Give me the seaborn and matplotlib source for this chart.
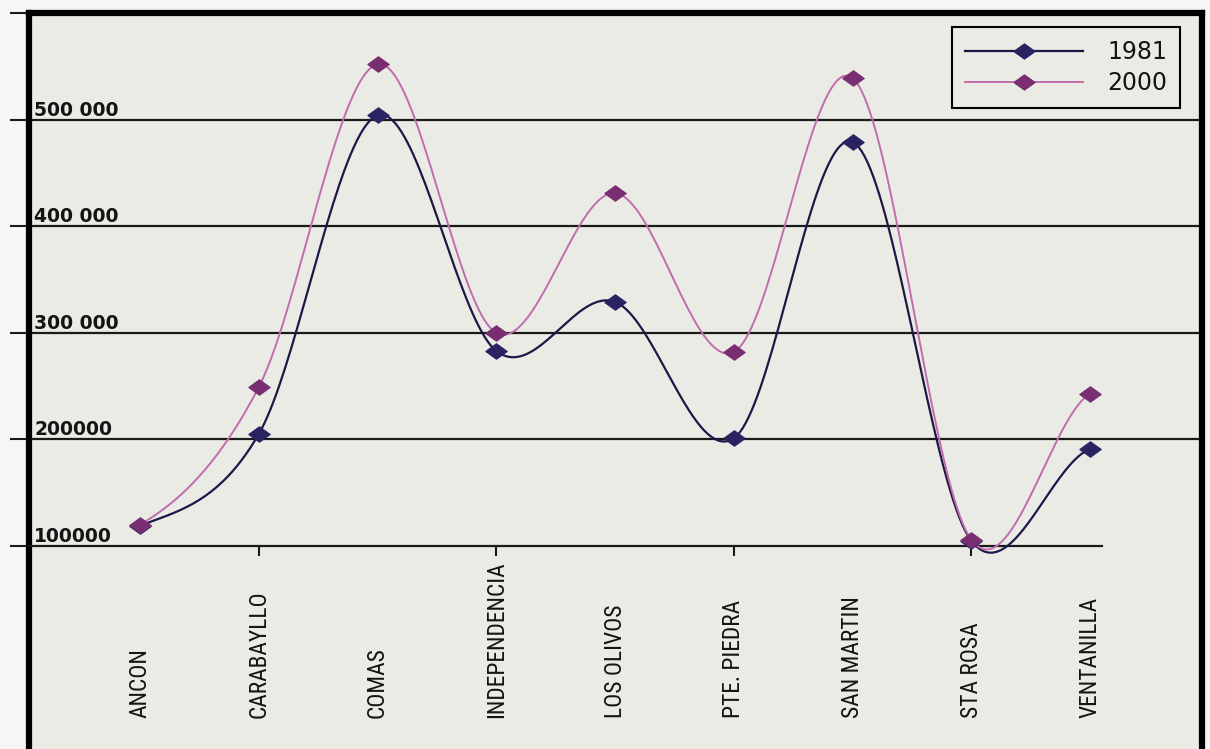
import numpy as np
import pandas as pd
import matplotlib.pyplot as plt
import matplotlib.transforms as mtransforms
from matplotlib import font_manager
from matplotlib.font_manager import FontProperties
from matplotlib.textpath import TextPath
from matplotlib.lines import Line2D
import seaborn as sns

distritos = ['ANCON', 'CARABAYLLO', 'COMAS', 'INDEPENDENCIA', 'LOS OLIVOS',
             'PTE. PIEDRA', 'SAN MARTIN', 'STA ROSA', 'VENTANILLA']
pob_1981 = [119000, 205000, 504000, 283000, 329000, 201000, 479000, 105000, 191000]
pob_2000 = [120000, 249000, 552000, 300000, 431000, 282000, 539000, 106000, 243000]
y_ticks = [100000, 200000, 300000, 400000, 500000, 600000]
y_labels = ['100000', '200000', '300 000', '400 000', '500 000']
x_marcas = [1, 3, 5, 7]

# colores
fondo = '#ebebe6'
c1981, m1981 = '#1d1848', '#2a2362'
c2000, m2000 = '#c06cae', '#7a2e72'

# fuente estrecha para los distritos si hay alguna instalada
entradas = font_manager.fontManager.ttflist
fp_cat = None
for nombre in ['Liberation Sans Narrow', 'Roboto Condensed', 'Open Sans Condensed',
               'DejaVu Sans', 'Noto Sans', 'Open Sans', 'Roboto']:
    for f in entradas:
        estrecha = nombre.endswith(('Narrow', 'Condensed')) or f.stretch in ('condensed', 'semi-condensed')
        if f.name == nombre and estrecha and f.style == 'normal':
            fp_cat = FontProperties(fname=f.fname)
            break
    if fp_cat is not None:
        break
if fp_cat is None:
    fp_cat = FontProperties(family='Liberation Sans', weight='bold')
# tamaño para que INDEPENDENCIA mida unos 155 px
ancho = TextPath((0, 0), 'INDEPENDENCIA', size=10, prop=fp_cat).get_extents().width
fp_cat.set_size(10 * 155 / (ancho * 100 / 72))

# rombo algo achatado, como el de Excel
rombo = [(-1, 0), (0, 0.72), (1, 0), (0, -0.72), (-1, 0)]


def suavizar(y, n=40):
    # curva suavizada tipo Excel (Catmull-Rom) entre los puntos
    y = np.asarray(y, float)
    p = np.concatenate([[y[0]], y, [y[-1]]])
    xs, ys = [], []
    for i in range(len(y) - 1):
        m0 = (p[i + 2] - p[i]) / 2
        m1 = (p[i + 3] - p[i + 1]) / 2
        t = np.linspace(0, 1, n, endpoint=(i == len(y) - 2))
        h00 = 2 * t**3 - 3 * t**2 + 1
        h10 = t**3 - 2 * t**2 + t
        h01 = -2 * t**3 + 3 * t**2
        h11 = t**3 - t**2
        xs.append(i + t)
        ys.append(h00 * y[i] + h10 * m0 + h01 * y[i + 1] + h11 * m1)
    return np.concatenate(xs), np.concatenate(ys)


fig = plt.figure(figsize=(12.1, 7.49), dpi=100, facecolor='#f6f6f8')
ax = fig.add_axes([29 / 1210, 0, (1202 - 29) / 1210, (749 - 13) / 749])
ax.set_facecolor(fondo)

x = np.arange(len(distritos))
series = [('1981', pob_1981, c1981, m1981, 1.6),
          ('2000', pob_2000, c2000, m2000, 1.4)]
for nombre, vals, c, m, lw in series:
    xs, ys = suavizar(vals)
    curva = pd.DataFrame({'x': xs, 'y': ys})
    sns.lineplot(data=curva, x='x', y='y', estimator=None, sort=False,
                 color=c, lw=lw, ax=ax, zorder=3, clip_on=False)
    sns.scatterplot(x=x, y=vals, marker=rombo, s=240, color=m,
                    edgecolor=m, linewidth=0.8, ax=ax, zorder=4, clip_on=False)

# ejes
ax.set_xlim(-(140 - 29) / 118.75, 8 + (1202 - 1090) / 118.75)
ax.set_ylim(100000 - (749 - 546) / (546 - 13) * 500000, 600000)
ax.set_xlabel('')
ax.set_ylabel('')

ax.set_yticks(y_ticks)
ax.grid(axis='y', color='#1a1a1a', lw=1.6)
ax.grid(axis='x', visible=False)
for linea, v in zip(ax.get_ygridlines(), y_ticks):
    if v == 100000:
        linea.set_visible(False)
ax.tick_params(axis='y', direction='out', length=13.5, width=1.5,
               color='#1a1a1a', labelleft=False)

ax.spines['bottom'].set_position(('data', 100000))
ax.spines['bottom'].set_bounds(ax.get_xlim()[0], 8.1)
ax.spines['bottom'].set_linewidth(1.6)
ax.spines['bottom'].set_color('#1a1a1a')
ax.set_xticks(x_marcas)
ax.tick_params(axis='x', direction='out', length=7.5, width=1.5,
               color='#1a1a1a', labelbottom=False)
for lado in ['left', 'top', 'right']:
    ax.spines[lado].set_linewidth(4.5)
    ax.spines[lado].set_color('black')

# etiquetas del eje y, dentro del grafico
trans_y = mtransforms.offset_copy(ax.get_yaxis_transform(), fig=fig,
                                  x=5, y=4, units='dots')
for v, lab in zip(y_ticks, y_labels):
    ax.text(0, v, lab, transform=trans_y, ha='left', va='baseline',
            fontsize=13.5, fontweight='bold', family='DejaVu Sans',
            color='#141414')

# nombres de distritos, verticales
for i, d in enumerate(distritos):
    ax.text(i, (749 - 718) / 736, d, transform=ax.get_xaxis_transform(),
            rotation=90, ha='center', va='bottom', fontproperties=fp_cat,
            color='#141414')

handles = [Line2D([], [], color=c, lw=lw, marker=rombo, markersize=15,
                  markerfacecolor=m, markeredgecolor=m)
           for _, _, c, m, lw in series]
leg = ax.legend(handles, [s[0] for s in series], loc='upper right',
                bbox_to_anchor=(1180 / 1210, 1 - 27 / 749),
                bbox_transform=fig.transFigure, borderaxespad=0,
                frameon=True, fancybox=False, edgecolor='black',
                facecolor=fondo, framealpha=1, fontsize=17,
                handlelength=5.0, handletextpad=1.0, borderpad=0.55,
                labelspacing=0.3)
leg.get_frame().set_linewidth(1.5)
for t in leg.get_texts():
    t.set_color('#141414')

fig.savefig('out.png', dpi=100, facecolor=fig.get_facecolor())
